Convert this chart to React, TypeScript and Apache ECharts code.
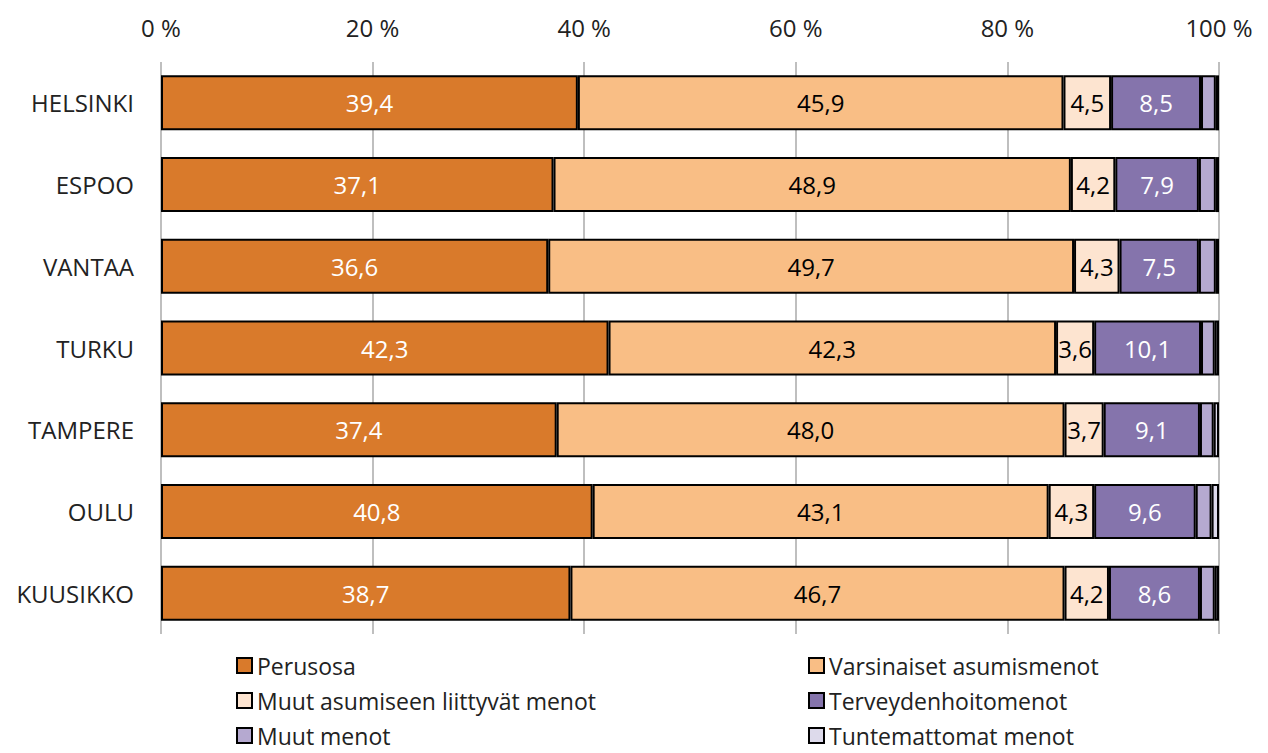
import React, { useEffect, useRef } from "react";
import * as echarts from "echarts";

const categories = ["HELSINKI", "ESPOO", "VANTAA", "TURKU", "TAMPERE", "OULU", "KUUSIKKO"];
const seriesNames = [
  "Perusosa",
  "Varsinaiset asumismenot",
  "Muut asumiseen liittyvät menot",
  "Terveydenhoitomenot",
  "Muut menot",
  "Tuntemattomat menot",
];
const perusosa = [39.4, 37.1, 36.6, 42.3, 37.4, 40.8, 38.7];
const varsinaiset = [45.9, 48.9, 49.7, 42.3, 48.0, 43.1, 46.7];
const muutAsumiseen = [4.5, 4.2, 4.3, 3.6, 3.7, 4.3, 4.2];
const terveydenhoito = [8.5, 7.9, 7.5, 10.1, 9.1, 9.6, 8.6];
const muutMenot = [1.4, 1.6, 1.6, 1.3, 1.3, 1.5, 1.4];
const tuntemattomat = [0.3, 0.3, 0.3, 0.4, 0.5, 0.7, 0.4];
const xTicks = [0, 20, 40, 60, 80, 100];

const colors = ["#D97A2B", "#F9BE85", "#FDE4D0", "#8574AC", "#B5A9D0", "#DDDAEB"];
const labelColors = ["#FFFFFF", "#000000", "#000000", "#FFFFFF", null, null];
const FONT = "Open Sans";

export default function App() {
  const ref = useRef<HTMLDivElement>(null);
  useEffect(() => {
    const chart = echarts.init(ref.current!, null, { renderer: "svg" });
    const values = [perusosa, varsinaiset, muutAsumiseen, terveydenhoito, muutMenot, tuntemattomat];
    const series = seriesNames.map((name, i) => ({
      name,
      type: "bar",
      stack: "total",
      barWidth: 55,
      data: values[i],
      itemStyle: { color: colors[i], borderColor: "#000000", borderWidth: 2 },
      label: labelColors[i]
        ? {
            show: true,
            position: "inside",
            color: labelColors[i],
            fontSize: 24,
            fontFamily: FONT,
            formatter: (p: any) => Number(p.value).toFixed(1).replace(".", ","),
          }
        : { show: false },
    }));
    const legendCommon = {
      orient: "vertical",
      top: 649,
      height: 104,
      itemWidth: 15,
      itemHeight: 15,
      itemGap: 12,
      icon: "rect",
      textStyle: {
        fontSize: 23,
        lineHeight: 23,
        color: "#222222",
        fontFamily: FONT,
        padding: [0, 0, 0, 0],
      },
    };
    chart.setOption({
      animation: false,
      textStyle: { fontFamily: FONT },
      grid: { left: 161, right: 49, top: 62, bottom: 119 },
      xAxis: {
        type: "value",
        position: "top",
        min: 0,
        max: 100,
        interval: 20,
        axisLine: { show: false },
        axisTick: { show: false },
        axisLabel: {
          formatter: (v: number) => (xTicks.includes(v) ? `${v} %` : ""),
          fontSize: 24,
          color: "#222222",
          fontFamily: FONT,
          margin: 23,
        },
        splitLine: { show: true, lineStyle: { color: "#BFBFBF", width: 2 } },
      },
      yAxis: {
        type: "category",
        inverse: true,
        data: categories,
        axisLine: { show: false },
        axisTick: { show: false },
        axisLabel: { fontSize: 24, color: "#222222", fontFamily: FONT, margin: 27 },
      },
      legend: [
        { ...legendCommon, left: 231, data: [seriesNames[0], seriesNames[2], seriesNames[4]] },
        { ...legendCommon, left: 803, data: [seriesNames[1], seriesNames[3], seriesNames[5]] },
      ],
      series,
    });
    return () => chart.dispose();
  }, []);
  return (
    <div
      ref={ref}
      style={{ position: "fixed", left: 0, top: 0, width: 1268, height: 753, background: "#fff" }}
    />
  );
}
